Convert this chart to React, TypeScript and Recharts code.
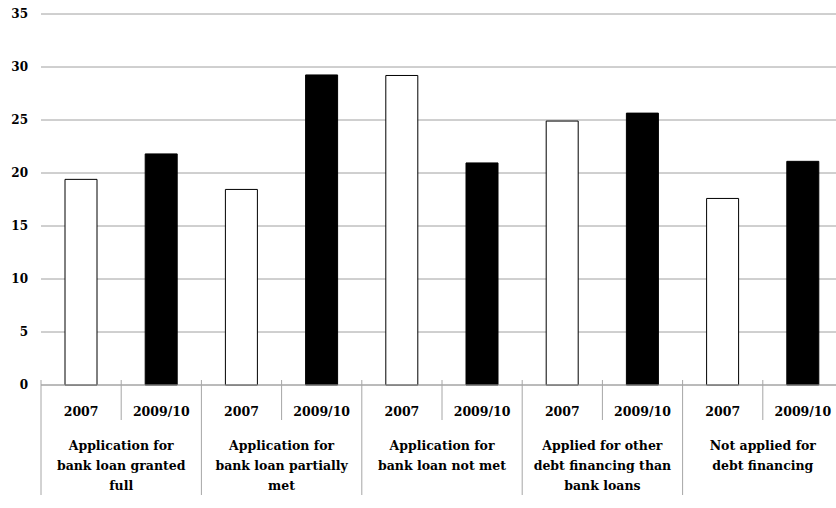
import React from "react";
import { BarChart, Bar, Cell, XAxis, YAxis, CartesianGrid } from "recharts";

const groupLabels = [
  "Application for\nbank loan granted\nfull",
  "Application for\nbank loan partially\nmet",
  "Application for\nbank loan not met",
  "Applied for other\ndebt financing than\nbank loans",
  "Not applied for\ndebt financing",
];
const years = ["2007", "2009/10"];
const values2007 = [19.4, 18.45, 29.2, 24.9, 17.6];
const values2009 = [21.8, 29.25, 20.95, 25.65, 21.1];
const yTicks = [0, 5, 10, 15, 20, 25, 30, 35];

const rows = groupLabels.flatMap((group, gi) =>
  years.map((year, yi) => ({
    key: `${gi}-${yi}`,
    year,
    group,
    yi,
    value: yi === 0 ? values2007[gi] : values2009[gi],
  }))
);

const W = 850;
const H = 508;
const margin = { top: 14, right: 7, left: 8, bottom: 8 };
const Y_W = 33;
const SLOT = (W - margin.left - margin.right - Y_W) / rows.length;

const font = "DejaVu Serif";
const sepColor = "#a6a6a6";

function CategoryTick(props: any) {
  const { x, y, index, payload } = props;
  const row = rows[index];
  if (!row) return null;
  const half = SLOT / 2;
  const isFirst = row.yi === 0;
  const isLast = index === rows.length - 1;
  return (
    <g>
      <line x1={x - half} x2={x - half} y1={y - 5} y2={y + (isFirst ? 110 : 35)} stroke={sepColor} />
      {isLast && <line x1={x + half} x2={x + half} y1={y - 5} y2={y + 110} stroke={sepColor} />}
      <text x={x} y={y + 31} textAnchor="middle" style={{ fontFamily: font, fontWeight: 700, fontSize: 12.5 }} fill="#000">
        {payload.value}
      </text>
      {isFirst &&
        row.group.split("\n").map((line, k) => (
          <text
            key={k}
            x={x + half}
            y={y + 65 + k * 20}
            textAnchor="middle"
            style={{ fontFamily: font, fontWeight: 700, fontSize: 12.5 }}
            fill="#000"
          >
            {line}
          </text>
        ))}
    </g>
  );
}

export default function App() {
  return (
    <div
      style={{
        position: "fixed",
        left: 0,
        top: 0,
        width: 836,
        height: 508,
        overflow: "hidden",
        background: "#fff",
      }}
    >
      <BarChart width={W} height={H} data={rows} margin={margin}>
        <CartesianGrid vertical={false} stroke="#a0a0a0" />
        <XAxis
          dataKey="year"
          height={115}
          interval={0}
          tickSize={0}
          tickMargin={0}
          tickLine={false}
          axisLine={{ stroke: sepColor }}
          tick={<CategoryTick />}
        />
        <YAxis
          width={Y_W}
          domain={[0, 35]}
          ticks={yTicks}
          interval={0}
          axisLine={false}
          tickLine={false}
          tickSize={0}
          tickMargin={13}
          tick={{ fill: "#000", fontSize: 12, fontWeight: 700, fontFamily: font }}
        />
        <Bar dataKey="value" barSize={32} isAnimationActive={false}>
          {rows.map((r) => (
            <Cell
              key={r.key}
              fill={r.yi === 0 ? "#fff" : "#000"}
              stroke="#000"
              strokeWidth={1}
            />
          ))}
        </Bar>
      </BarChart>
    </div>
  );
}
